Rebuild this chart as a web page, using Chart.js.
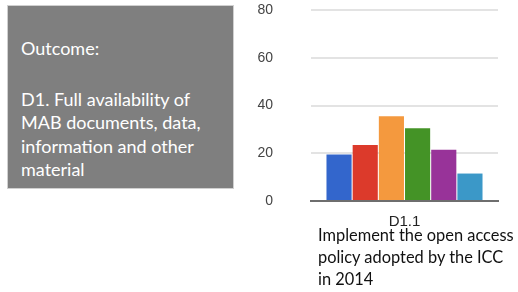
<!DOCTYPE html>
<html lang="en">
<head>
<meta charset="UTF-8">
<title>D1 outcome chart</title>
<script src="https://cdn.jsdelivr.net/npm/chart.js"></script>
<style>
    body {
        margin: 0;
        width: 518px;
        height: 292px;
        background: #fff;
        position: relative;
        overflow: hidden;
        font-family: 'Lato', sans-serif;
    }
    #outcome-box {
        position: absolute;
        left: 7px;
        top: 5px;
        width: 227px;
        height: 184px;
        box-sizing: border-box;
        background: #7f7f7f;
        border: 1px solid #d0d0d0;
        color: #fff;
        font-size: 18px;
        line-height: 23.5px;
        padding: 31px 0 0 13px;
    }
    #outcome-box p { margin: 0; }
    #chart {
        position: absolute;
        left: 240px;
        top: 0;
    }
    #desc {
        position: absolute;
        left: 318px;
        top: 224px;
        color: #111;
        font-size: 16.4px;
        line-height: 22px;
    }
</style>
</head>
<body>
<div id="outcome-box">
    <p>Outcome:</p>
    <p style="margin-top: 27px;">D1. Full availability of<br>MAB documents, data,<br>information and other<br>material</p>
</div>
<canvas id="chart" width="278" height="232"></canvas>
<div id="desc">Implement the open access<br>policy adopted by the ICC<br>in 2014</div>

<script>
// data
var categories = ["D1.1"];
var seriesValues = [19.5, 23.5, 35.5, 30.5, 21.5, 11.5];
var seriesColors = ["#3366cc", "#dc3a2b", "#f4993e", "#449326", "#983399", "#3b98c8"];
var yTicks = [0, 20, 40, 60, 80];

var datasets = seriesValues.map(function (v, i) {
    return {
        label: "Series " + (i + 1),
        data: [v],
        backgroundColor: seriesColors[i],
        borderWidth: 0
    };
});

new Chart(document.getElementById("chart"), {
    type: "bar",
    data: { labels: categories, datasets: datasets },
    options: {
        responsive: false,
        animation: false,
        devicePixelRatio: 1,
        categoryPercentage: 0.84,
        barPercentage: 0.96,
        layout: { padding: { top: 10, right: 20, left: 0, bottom: 0 } },
        plugins: { legend: { display: false }, tooltip: { enabled: false } },
        scales: {
            x: {
                grid: { display: false, drawTicks: false },
                border: { display: true, color: "#6e6e6e", width: 2 },
                ticks: { color: "#222", font: { family: "Liberation Sans", size: 15 }, padding: 12 },
                afterFit: function (s) { s.height = 31; }
            },
            y: {
                min: 0,
                max: 80,
                afterBuildTicks: function (s) { s.ticks = yTicks.map(function (v) { return { value: v }; }); },
                border: { display: false },
                grid: {
                    drawTicks: true,
                    tickLength: 38,
                    tickColor: "rgba(0,0,0,0)",
                    lineWidth: 2,
                    color: function (c) { return c.tick && c.tick.value === 0 ? "rgba(0,0,0,0)" : "#e3e3e3"; }
                },
                ticks: { color: "#444", font: { family: "Liberation Sans", size: 14 }, padding: 0 },
                afterFit: function (s) { s.width = 71; }
            }
        }
    }
});
</script>
</body>
</html>
